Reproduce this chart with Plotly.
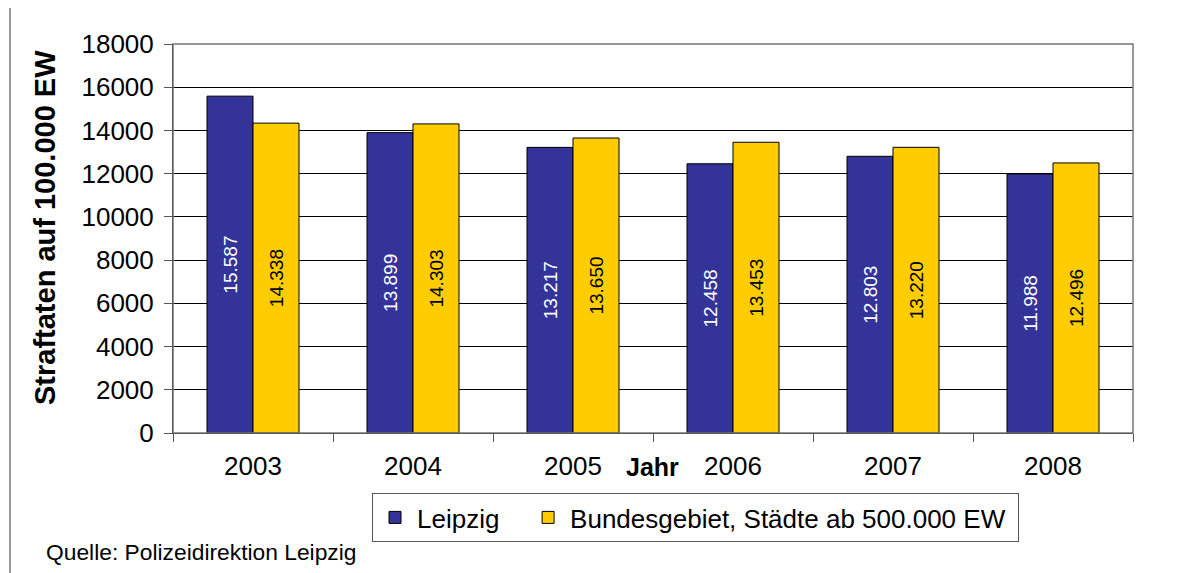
import plotly.graph_objects as go

YEARS = ["2003", "2004", "2005", "2006", "2007", "2008"]
LEIPZIG = [15587, 13899, 13217, 12458, 12803, 11988]
BUND = [14338, 14303, 13650, 13453, 13220, 12496]
Y_TICKS = [0, 2000, 4000, 6000, 8000, 10000, 12000, 14000, 16000, 18000]

FONT = "Liberation Sans, Arial, sans-serif"
OFF = 8  # page body margin in the browser
W, H = 1183, 573
PL, PT, PR, PB = 173, 44, 1133, 433  # plot area on screen
L, T = PL - OFF, PT - OFF
R, B = W - (PR - OFF), H - (PB - OFF)
PW, PH = PR - PL, PB - PT


def px(x):
    # screen x -> paper x
    return (x - PL) / PW


def py(y):
    # screen y -> paper y
    return (PB - y) / PH


def de(v):
    return f"{v:,}".replace(",", ".")


fig = go.Figure()
fig.add_trace(go.Bar(
    x=YEARS, y=LEIPZIG, name="Leipzig\u00a0\u00a0\u00a0",
    marker=dict(color="#333399", line=dict(color="#000000", width=1)),
    text=[de(v) for v in LEIPZIG], textposition="inside", textangle=-90,
    insidetextanchor="middle",
    textfont=dict(family=FONT, size=19, color="white"),
))
fig.add_trace(go.Bar(
    x=YEARS, y=BUND, name="Bundesgebiet, Städte ab 500.000 EW\u00a0",
    marker=dict(color="#FFCC00", line=dict(color="#000000", width=1)),
    text=[de(v) for v in BUND], textposition="inside", textangle=-90,
    insidetextanchor="middle",
    textfont=dict(family=FONT, size=19, color="black"),
))

fig.update_layout(
    width=W, height=H,
    margin=dict(l=L, r=R, t=T, b=B, autoexpand=False),
    paper_bgcolor="white", plot_bgcolor="white",
    font=dict(family=FONT, size=26, color="black"),
    barmode="group", bargap=0.425, bargroupgap=0,
    showlegend=True,
    legend=dict(
        orientation="h", x=px(372), xanchor="left", y=py(493), yanchor="top",
        bordercolor="#555555", borderwidth=1, font=dict(size=26),
        itemwidth=34,
    ),
    xaxis=dict(
        showline=True, linecolor="black", linewidth=1,
        ticks="outside", tickson="boundaries", ticklen=8, tickcolor="#555555",
        ticklabelstandoff=10, showgrid=False,
    ),
    yaxis=dict(
        range=[0, 18000], tickvals=Y_TICKS, ticktext=[str(v) for v in Y_TICKS],
        showline=True, linecolor="black", linewidth=1,
        ticks="outside", ticklen=8, tickcolor="#555555", ticklabelstandoff=5,
        showgrid=True, gridcolor="#000000", gridwidth=1,
    ),
)

# plot area border (top/right grey)
fig.add_shape(type="rect", xref="paper", yref="paper", x0=0, y0=0, x1=1, y1=1,
              line=dict(color="#777777", width=1.5), layer="above")
# outer chart frame: top and left edges
fig.add_shape(type="line", xref="paper", yref="paper",
              x0=px(10), y0=py(7), x1=px(1190), y1=py(7),
              line=dict(color="#333333", width=1))
fig.add_shape(type="line", xref="paper", yref="paper",
              x0=px(10), y0=py(7), x1=px(10), y1=py(590),
              line=dict(color="#333333", width=1))

fig.add_annotation(text="<b>Straftaten auf 100.000 EW</b>", xref="paper", yref="paper",
                   x=px(45), y=py(228), textangle=-90, showarrow=False,
                   font=dict(size=29), xanchor="center", yanchor="middle")
fig.add_annotation(text="<b>Jahr</b>", xref="paper", yref="paper",
                   x=px(652), y=py(467), showarrow=False,
                   font=dict(size=25), xanchor="center", yanchor="middle")
fig.add_annotation(text="Quelle: Polizeidirektion Leipzig", xref="paper", yref="paper",
                   x=px(44), y=py(552), showarrow=False,
                   font=dict(size=22.8), xanchor="left", yanchor="middle")

fig.write_html("out.html")
